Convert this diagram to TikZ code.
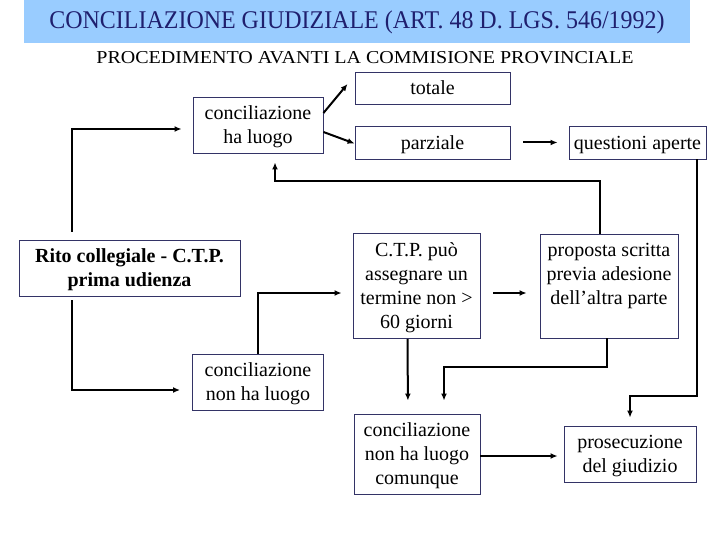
\documentclass[tikz,border=0pt]{standalone}
\usepackage{fontspec}
\setmainfont{Liberation Serif}
\newfontfamily\titlefont{Liberation Serif}[FakeStretch=0.94]
\newfontfamily\widefont{Liberation Serif}[FakeStretch=1.1]
\usetikzlibrary{arrows.meta}
\definecolor{barblue}{HTML}{99CCFF}
\definecolor{titleblue}{HTML}{1F1F6E}
\definecolor{boxline}{HTML}{333366}
\tikzset{
box/.style={
draw=boxline,
line width=0.9pt,
align=center,
inner sep=0pt,
text depth=-2pt,
font=\fontsize{20}{24}\selectfont
},
arrow/.style={
-{Latex[length=7pt,width=6pt]},
line width=2pt
}
}
\begin{document}
\begin{tikzpicture}[x=1pt,y=-1pt]
\fill[white](0,0)rectangle(720,540);
\useasboundingbox(0,0)rectangle(720,540);
% title bar
\fill[barblue](24,0)rectangle(690,43);
\node[text=titleblue,font=\titlefont\fontsize{25.5}{28}\selectfont](title)at(357,22){CONCILIAZIONE GIUDIZIALE (ART. 48 D. LGS. 546/1992)};
\node[font=\widefont\fontsize{18.2}{20}\selectfont](sub)at(365,58){PROCEDIMENTO AVANTI LA COMMISIONE PROVINCIALE};

\node[box,minimum width=155pt,minimum height=32pt](tot)at(432.5,88){totale};
\node[box,minimum width=130pt,minimum height=56pt](luogo)at(258,125){conciliazione\\ha luogo};
\node[box,minimum width=155pt,minimum height=33pt](parz)at(432.5,142.5){parziale};
\node[box,minimum width=137pt,minimum height=33pt](quest)at(637.5,142.5){questioni aperte};
\node[box,font=\fontsize{20}{24}\selectfont\bfseries,minimum width=221pt,minimum height=56pt](rito)at(129.5,268){Rito collegiale - C.T.P.\\prima udienza};
\node[box,minimum width=127pt,minimum height=105pt](ctp)at(416.5,286){C.T.P. può\\assegnare un\\termine non >\\60 giorni};
\node[box,minimum width=138pt,minimum height=104pt,text depth=25pt](prop)at(609,286){proposta scritta\\previa adesione\\dell’altra parte};
\node[box,minimum width=131pt,minimum height=56pt](non)at(258,382){conciliazione\\non ha luogo};
\node[box,minimum width=126pt,minimum height=80pt](comun)at(417,454){conciliazione\\non ha luogo\\comunque};
\node[box,minimum width=132pt,minimum height=56pt](pros)at(630,454){prosecuzione\\del giudizio};

% arrows
\draw[arrow,shorten <=8pt,shorten >=11pt]([xshift=53pt]rito.north west)|-([yshift=-4pt]luogo.west);
\draw[arrow,shorten <=4pt,shorten >=12pt]([xshift=53pt]rito.south west)|-([yshift=-8pt]non.west);
\draw[arrow,shorten >=11pt](non.north)|-([yshift=-7pt]ctp.west);
\draw[arrow,shorten <=13pt,shorten >=13pt]([yshift=-7pt]ctp.east)--([yshift=-7pt]prop.west);
\draw[arrow,shorten >=9pt]([xshift=-9pt]prop.north)--++(0,-53)-|([xshift=17pt]luogo.south);
\draw[arrow]([yshift=12pt]luogo.east)--([xshift=-7pt,yshift=4pt]tot.west);
\draw[arrow]([yshift=-7pt]luogo.east)--([yshift=-1pt]parz.west);
\draw[arrow,shorten <=13pt,shorten >=11pt](parz.east)--(quest.west);
\draw[arrow,shorten >=8pt]([xshift=-9pt]quest.south east)|-([yshift=30pt]pros.north)--(pros.north);
\draw[arrow,shorten >=13pt]([xshift=-9pt]ctp.south)--([xshift=-9pt]comun.north);
\draw[arrow,shorten >=13pt]([xshift=-2pt]prop.south)--++(0,29)-|([xshift=27pt]comun.north);
\draw[arrow,shorten >=6pt]([yshift=-2pt]comun.east)--([yshift=-2pt]pros.west);
\end{tikzpicture}
\end{document}
